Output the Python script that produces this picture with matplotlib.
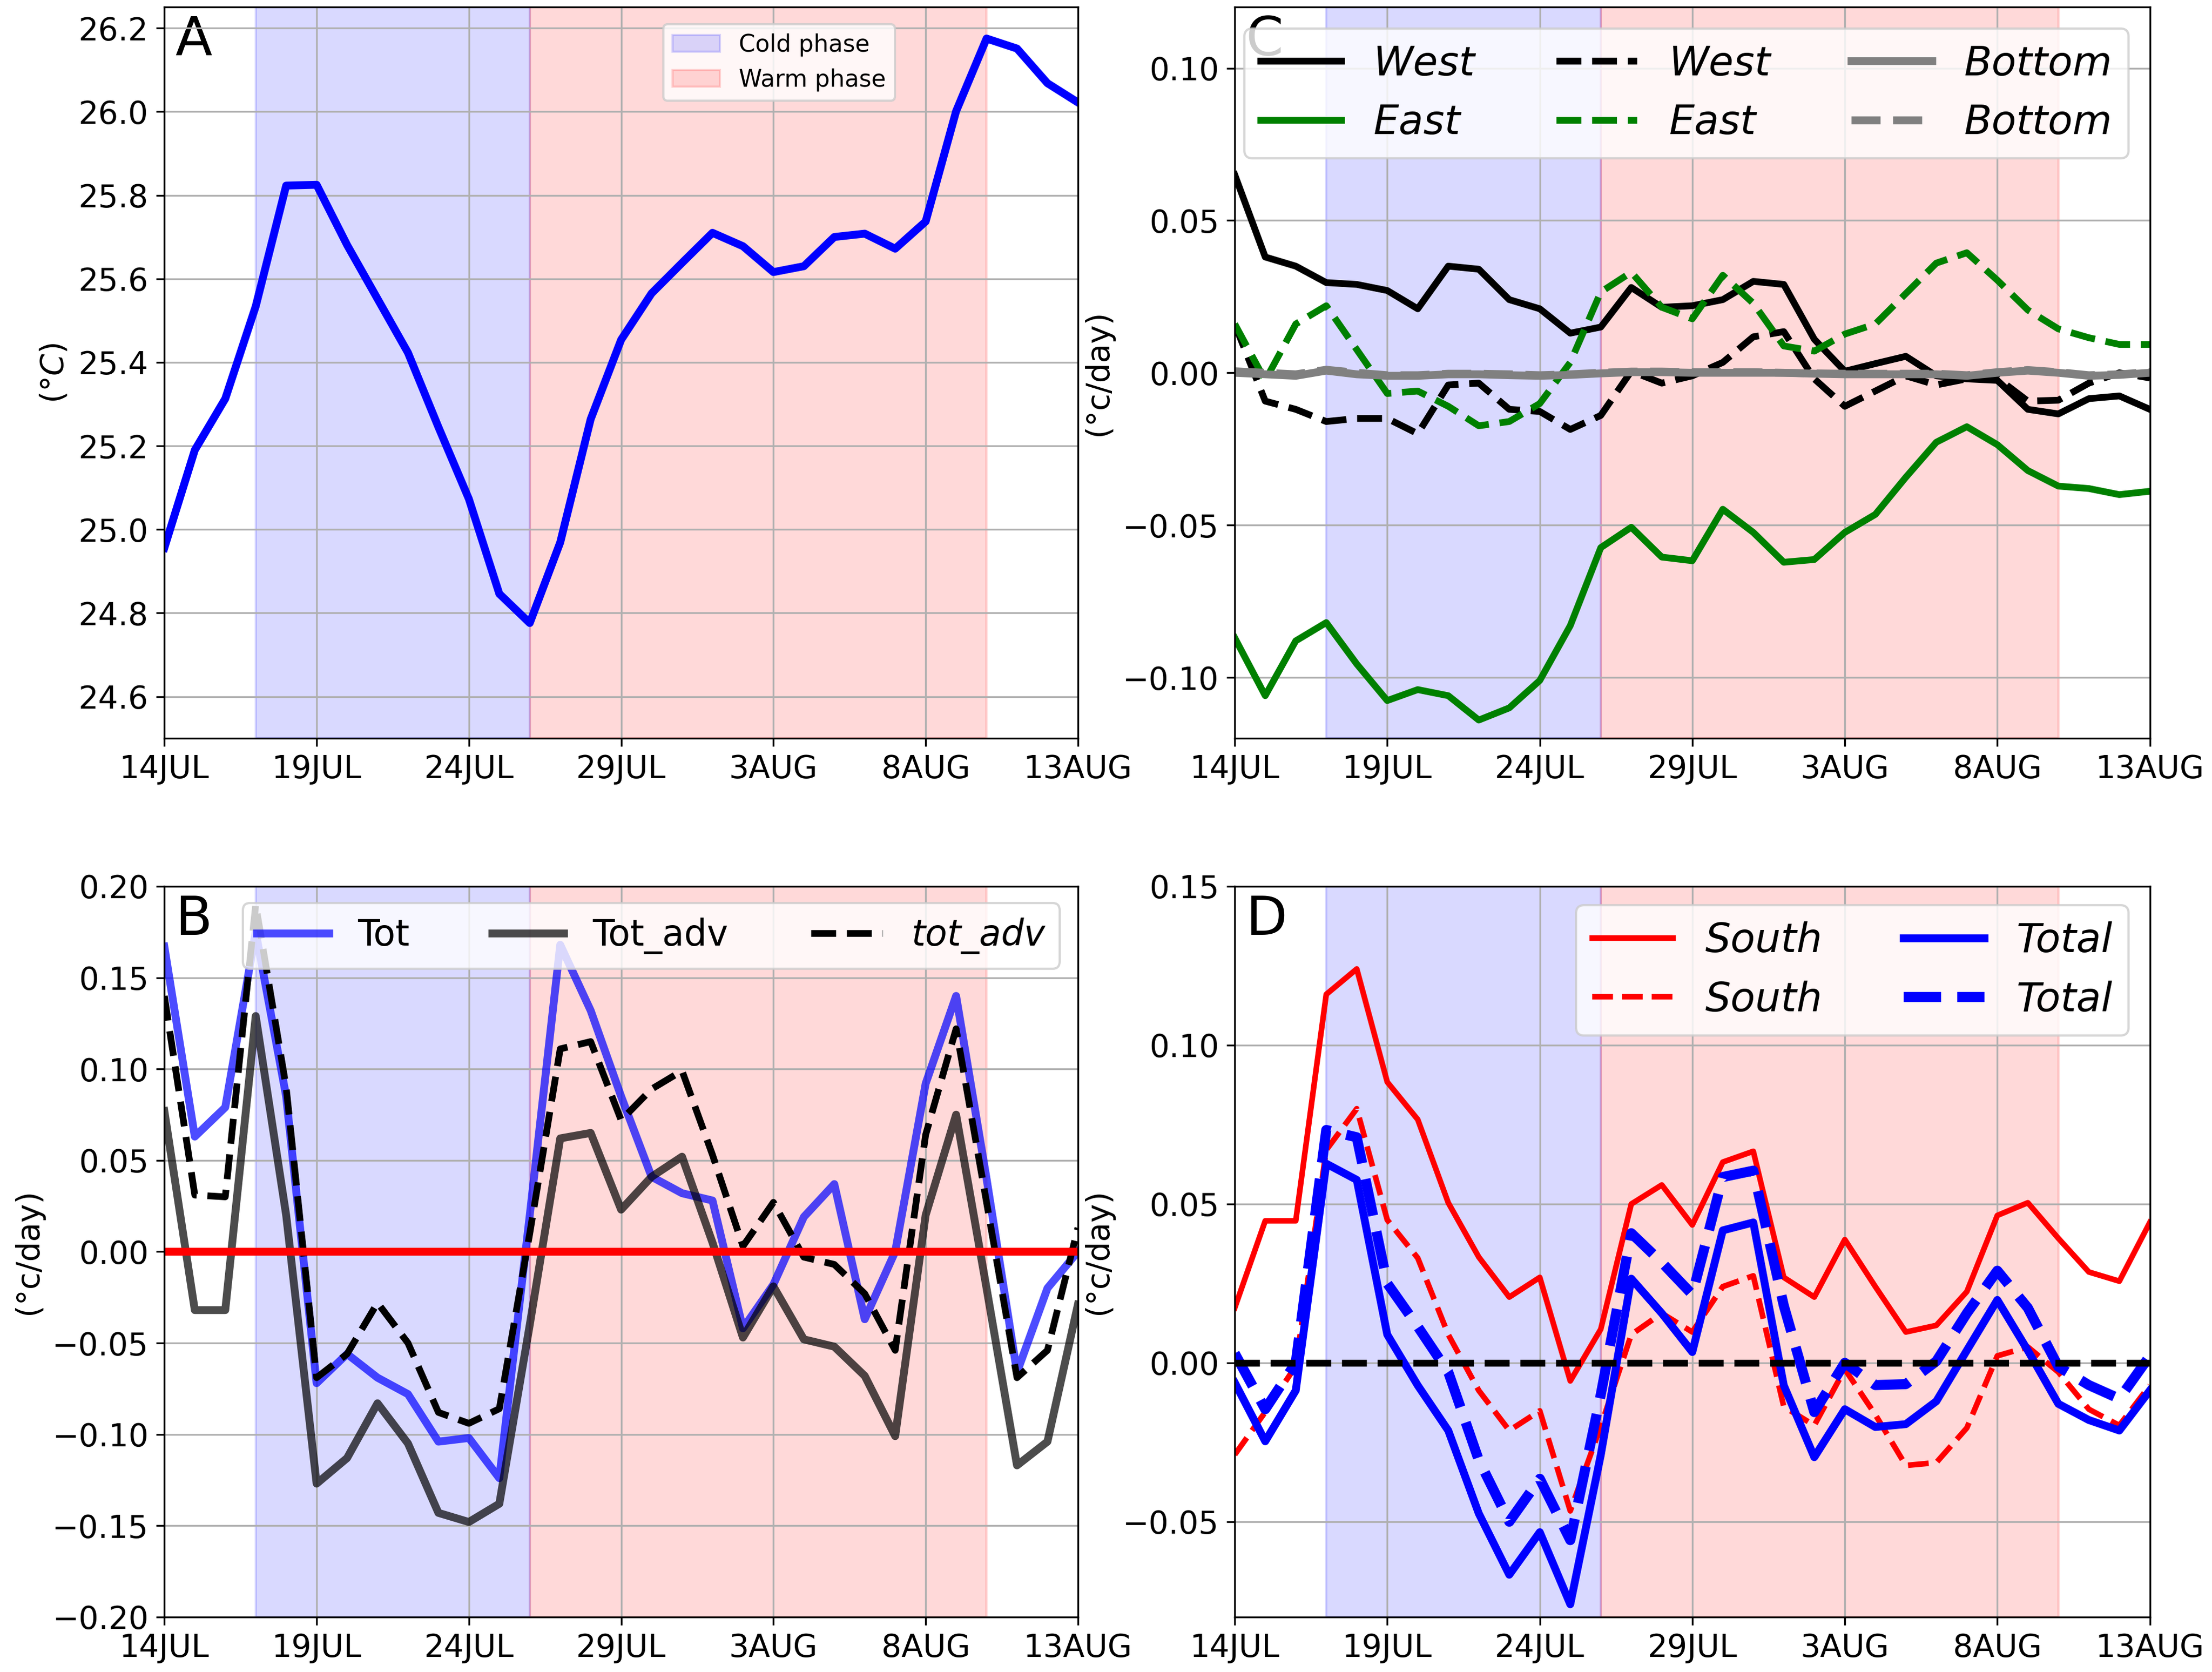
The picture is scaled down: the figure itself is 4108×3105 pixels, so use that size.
import matplotlib.pyplot as plt

# eje x: dias desde 14JUL
dias = list(range(31))
tick_dias = [0, 5, 10, 15, 20, 25, 30]
tick_etiquetas = ["14JUL", "19JUL", "24JUL", "29JUL", "3AUG", "8AUG", "13AUG"]
fase_fria = (3, 12)
fase_calida = (12, 27)

# Panel A: temperatura
temp = [24.956, 25.19, 25.313, 25.534, 25.823, 25.825, 25.681, 25.552, 25.423, 25.245,
        25.073, 24.846, 24.776, 24.969, 25.264, 25.454, 25.565, 25.638, 25.710, 25.678,
        25.616, 25.630, 25.700, 25.708, 25.672, 25.737, 26.001, 26.175, 26.151, 26.068,
        26.022]

# Panel B
tot = [0.167, 0.063, 0.079, 0.175, 0.085, -0.072, -0.056, -0.069, -0.078, -0.104,
       -0.102, -0.124, 0.02, 0.168, 0.132, 0.085, 0.041, 0.032, 0.028, -0.042,
       -0.018, 0.019, 0.037, -0.037, 0.0, 0.092, 0.140, 0.04, -0.066, -0.020, 0.0]
tot_adv = [0.077, -0.032, -0.032, 0.129, 0.02, -0.127, -0.113, -0.083, -0.105, -0.143,
           -0.148, -0.138, -0.04, 0.062, 0.065, 0.023, 0.041, 0.052, 0.005, -0.047,
           -0.019, -0.048, -0.052, -0.068, -0.101, 0.02, 0.075, -0.02, -0.117, -0.104,
           -0.029]
tot_adv2 = [0.14, 0.031, 0.030, 0.19, 0.09, -0.069, -0.056, -0.028, -0.05, -0.088,
            -0.094, -0.086, 0.01, 0.111, 0.115, 0.072, 0.089, 0.099, 0.053, 0.003,
            0.027, -0.003, -0.007, -0.023, -0.054, 0.064, 0.122, 0.027, -0.069, -0.054,
            0.013]

# Panel C
west = [0.065, 0.038, 0.035, 0.0296, 0.029, 0.027, 0.021, 0.035, 0.034, 0.024,
        0.021, 0.013, 0.015, 0.028, 0.0215, 0.022, 0.024, 0.030, 0.029, 0.011,
        0.0005, 0.003, 0.0054, -0.001, -0.002, -0.0025, -0.012, -0.0135, -0.0085, -0.0076,
        -0.012]
east = [-0.087, -0.106, -0.088, -0.082, -0.0956, -0.1076, -0.104, -0.106, -0.114, -0.110,
        -0.101, -0.083, -0.0574, -0.0507, -0.0605, -0.0617, -0.0448, -0.0524, -0.0622, -0.0613,
        -0.0524, -0.0465, -0.0343, -0.0228, -0.0177, -0.0236, -0.0321, -0.0372, -0.038, -0.040,
        -0.0389]
bottom = [0.0, -0.0005, -0.001, 0.0007, -0.0005, -0.001, -0.001, -0.0005, -0.0005, -0.0008,
          -0.001, -0.0007, -0.0002, 0.0002, 0.0002, 0.0, 0.0, 0.0, 0.0, -0.0003,
          -0.0005, -0.0005, -0.0005, -0.0005, -0.001, 0.0, 0.0007, 0.0, -0.001, -0.0007, 0.0]
west2 = [0.016, -0.0093, -0.012, -0.016, -0.015, -0.015, -0.020, -0.004, -0.0034, -0.012,
         -0.0127, -0.0186, -0.014, 0.0005, -0.0034, -0.001, 0.0034, 0.0118, 0.0135, -0.002,
         -0.011, -0.006, -0.001, -0.004, -0.002, -0.0017, -0.0093, -0.009, -0.0034, 0.0,
         -0.0017]
east2 = [0.016, -0.0025, 0.016, 0.022, 0.0076, -0.0068, -0.006, -0.011, -0.0174, -0.016,
         -0.0101, 0.0034, 0.0265, 0.033, 0.0215, 0.0177, 0.032, 0.0228, 0.0088, 0.0071,
         0.0127, 0.016, 0.026, 0.036, 0.0394, 0.0304, 0.0206, 0.0144, 0.0115, 0.0093,
         0.0093]
bottom2 = [0.0005, 0.0, -0.0005, 0.001, 0.0, -0.0008, -0.0008, -0.0003, -0.0003, -0.0005,
           -0.0008, -0.0005, 0.0, 0.0004, 0.0004, 0.0002, 0.0002, 0.0002, 0.0, -0.0002,
           -0.0003, -0.0003, -0.0003, -0.0003, -0.0008, 0.0002, 0.0009, 0.0002, -0.0008,
           -0.0005, 0.0002]

# Panel D
south = [0.0173, 0.0447, 0.0447, 0.116, 0.124, 0.0884, 0.0766, 0.0504, 0.0333, 0.0207,
         0.0269, -0.0057, 0.0106, 0.050, 0.056, 0.0434, 0.0632, 0.0666, 0.0269, 0.0207,
         0.0388, 0.024, 0.0097, 0.0118, 0.0224, 0.0464, 0.0504, 0.0392, 0.0286, 0.0257,
         0.0442]
south2 = [-0.0289, -0.0155, -0.001, 0.067, 0.080, 0.045, 0.033, 0.0089, -0.0087, -0.0213,
          -0.0151, -0.0466, -0.02, 0.0089, 0.0156, 0.0097, 0.024, 0.0274, -0.0138, -0.0197,
          -0.002, -0.0163, -0.0323, -0.0314, -0.0205, 0.0022, 0.005, -0.0029, -0.0146, -0.0197,
          -0.0071]
total = [-0.0062, -0.0247, -0.0087, 0.0627, 0.0576, 0.0089, -0.0071, -0.0213, -0.0474, -0.0667,
         -0.0533, -0.076, -0.029, 0.0265, 0.0156, 0.0034, 0.0417, 0.0442, -0.0071, -0.0297,
         -0.0146, -0.0202, -0.0193, -0.0121, 0.0039, 0.0198, 0.0039, -0.0129, -0.018, -0.0213,
         -0.0087]
total2 = [0.003, -0.0146, 0.0, 0.0733, 0.071, 0.025, 0.0114, -0.0029, -0.0306, -0.05,
          -0.0365, -0.0558, -0.01, 0.0408, 0.0316, 0.0215, 0.0585, 0.0605, 0.018, -0.0155,
          0.0, -0.007, -0.0067, 0.0005, 0.0156, 0.029, 0.0173, -0.0012, -0.007, -0.0113,
          0.0022]

fig = plt.figure(figsize=(4108 / 300, 3105 / 300), dpi=300)
axA = fig.add_axes([0.0743, 0.5584, 0.4130, 0.4373])
axC = fig.add_axes([0.5582, 0.5584, 0.4137, 0.4373])
axB = fig.add_axes([0.0743, 0.0329, 0.4130, 0.4370])
axD = fig.add_axes([0.5582, 0.0329, 0.4137, 0.4370])


def preparar(ax, letra, etiqueta_y):
    ax.axvspan(*fase_fria, color="blue", alpha=0.15, label="Cold phase")
    ax.axvspan(*fase_calida, color="red", alpha=0.15, label="Warm phase")
    ax.grid(True)
    ax.set_xlim(0, 30)
    ax.set_xticks(tick_dias)
    ax.set_xticklabels(tick_etiquetas)
    ax.tick_params(labelsize=14)
    ax.set_ylabel(etiqueta_y, fontsize=14)
    ax.text(0.012, 0.99, letra, transform=ax.transAxes, fontsize=24,
            va="top", ha="left", zorder=1)


# ----- A -----
preparar(axA, "A", "(°$C$)")
axA.plot(dias, temp, color="blue", lw=3.5)
axA.set_ylim(24.5, 26.25)
axA.legend(loc="upper left", bbox_to_anchor=(0.546, 0.977), borderaxespad=0,
           fontsize=10.5)

# ----- B -----
preparar(axB, "B", "(°c/day)")
axB.plot(dias, tot, color="blue", alpha=0.7, lw=3.5, label="Tot")
axB.plot(dias, tot_adv, color="k", alpha=0.7, lw=3.5, label="Tot_adv")
axB.plot(dias, tot_adv2, color="k", ls="--", lw=3, label="tot_adv")
axB.axhline(0, color="red", lw=3.5)
axB.set_ylim(-0.2, 0.2)
axB.set_yticks([-0.2, -0.15, -0.1, -0.05, 0, 0.05, 0.1, 0.15, 0.2])
h, l = axB.get_legend_handles_labels()
legB = axB.legend(h[2:], l[2:], ncol=3, loc="upper right",
                  bbox_to_anchor=(0.98, 0.977), borderaxespad=0, fontsize=16,
                  columnspacing=2.3)
legB.get_texts()[2].set_fontstyle("italic")

# ----- C -----
preparar(axC, "C", "(°c/day)")
axC.plot(dias, west, color="k", lw=3, label="West")
axC.plot(dias, east, color="green", lw=3, label="East")
axC.plot(dias, west2, color="k", ls="--", lw=3, label="West")
axC.plot(dias, east2, color="green", ls="--", lw=3, label="East")
axC.plot(dias, bottom, color="gray", lw=3.5, label="Bottom")
axC.plot(dias, bottom2, color="gray", ls="--", lw=3.5, label="Bottom")
axC.set_ylim(-0.12, 0.12)
axC.set_yticks([-0.1, -0.05, 0, 0.05, 0.1])
h, l = axC.get_legend_handles_labels()
axC.legend(h[2:], l[2:], ncol=3, loc="upper right", bbox_to_anchor=(0.977, 0.971),
           borderaxespad=0, prop={"size": 18, "style": "italic"})

# ----- D -----
preparar(axD, "D", "(°c/day)")
axD.plot(dias, south, color="red", lw=2.5, label="South")
axD.plot(dias, south2, color="red", ls="--", lw=2.5, label="South")
axD.plot(dias, total, color="blue", lw=3.5, label="Total")
axD.plot(dias, total2, color="blue", ls="--", lw=4.5, label="Total")
axD.axhline(0, color="k", ls="--", lw=3)
axD.set_ylim(-0.08, 0.15)
axD.set_yticks([-0.05, 0, 0.05, 0.1, 0.15])
h, l = axD.get_legend_handles_labels()
axD.legend(h[2:], l[2:], ncol=2, loc="upper right", bbox_to_anchor=(0.977, 0.974),
           borderaxespad=0, prop={"size": 18, "style": "italic"})

fig.savefig("out.png", dpi=300)
